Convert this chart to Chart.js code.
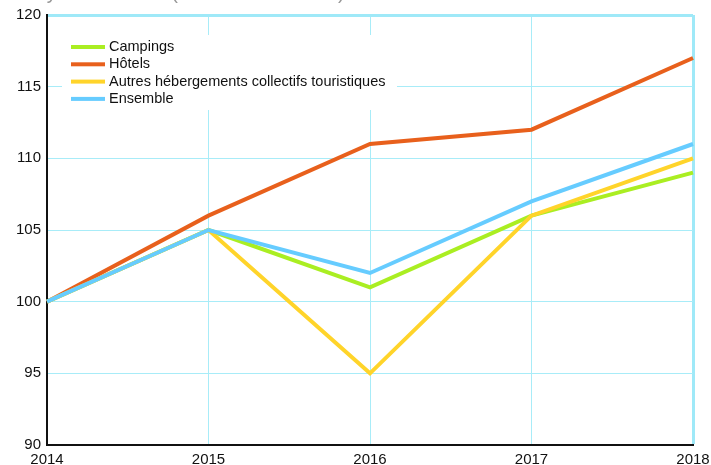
<!DOCTYPE html>
<html>
<head>
<meta charset="utf-8">
<script src="https://cdn.jsdelivr.net/npm/chart.js@4.4.0/dist/chart.umd.min.js"></script>
<style>
  html, body { margin: 0; padding: 0; background: #fff; overflow: hidden; }
  #wrap { position: relative; width: 711px; height: 465px; }
  #title { position: absolute; left: -40px; top: -19px; font: 20px "Liberation Sans", Arial, sans-serif; color: #999; white-space: nowrap; }
</style>
</head>
<body>
<div id="wrap">
  <div id="title">Indice moyen des tarifs (base 100 en 2014)</div>
  <canvas id="myChart" width="711" height="465"></canvas>
</div>
<script>
var years = ['2014', '2015', '2016', '2017', '2018'];
var campings = [100, 105, 101, 106, 109];
var hotels = [100, 106, 111, 112, 117];
var autres = [100, 105, 95, 106, 110];
var ensemble = [100, 105, 102, 107, 111];

var gridColor = '#a8ecf8';
var edgeColor = '#9fe9f8';

// legend drawn inside the plot, on a white box
var insideLegend = {
  id: 'insideLegend',
  beforeDatasetsDraw: function(chart) {
    var c = chart.ctx;
    c.save();
    c.fillStyle = '#fff';
    c.fillRect(62, 35, 335, 75);
    c.font = '14.5px "Liberation Sans", Arial, sans-serif';
    c.textBaseline = 'middle';
    var list = chart.data.datasets;
    for (var i = 0; i < list.length; i++) {
      var y = 47 + i * 17.3;
      c.fillStyle = list[i].borderColor;
      c.fillRect(71, y - 2, 34, 4);
      c.fillStyle = '#111';
      c.fillText(list[i].label, 109, y);
    }
    c.restore();
  }
};

var ctx = document.getElementById('myChart').getContext('2d');
var myChart = new Chart(ctx, {
  type: 'line',
  data: {
    labels: years,
    datasets: [{
      label: 'Campings',
      data: campings,
      borderColor: '#aaee22',
      order: 4
    }, {
      label: 'Hôtels',
      data: hotels,
      borderColor: '#e8601c',
      order: 3
    }, {
      label: 'Autres hébergements collectifs touristiques',
      data: autres,
      borderColor: '#ffd42a',
      order: 2
    }, {
      label: 'Ensemble',
      data: ensemble,
      borderColor: '#66ccff',
      order: 1
    }]
  },
  options: {
    responsive: false,
    animation: false,
    elements: {
      line: { borderWidth: 4, tension: 0, fill: false },
      point: { radius: 0 }
    },
    layout: { padding: { top: 13, right: 18, left: 0, bottom: 0 } },
    plugins: {
      legend: { display: false },
      tooltip: { enabled: false }
    },
    scales: {
      x: {
        offset: false,
        border: { color: '#111', width: 2 },
        grid: {
          drawTicks: false,
          color: function(c) { return c.index === years.length - 1 ? edgeColor : gridColor; },
          lineWidth: function(c) { return c.index === years.length - 1 ? 3 : 1; }
        },
        ticks: {
          padding: 6,
          maxRotation: 0,
          color: '#111',
          font: { family: '"Liberation Sans", Arial, sans-serif', size: 15 }
        },
        afterFit: function(s) { s.height = 20; s.paddingLeft = 0; s.paddingRight = 0; }
      },
      y: {
        min: 90,
        max: 120,
        border: { color: '#111', width: 2 },
        grid: {
          drawTicks: false,
          color: function(c) { return c.tick && c.tick.value === 120 ? edgeColor : gridColor; },
          lineWidth: function(c) { return c.tick && c.tick.value === 120 ? 3 : 1; }
        },
        ticks: {
          stepSize: 5,
          padding: 6,
          color: '#111',
          font: { family: '"Liberation Sans", Arial, sans-serif', size: 15 }
        },
        afterFit: function(s) { s.width = 47; }
      }
    }
  },
  plugins: [insideLegend]
});
</script>
</body>
</html>
